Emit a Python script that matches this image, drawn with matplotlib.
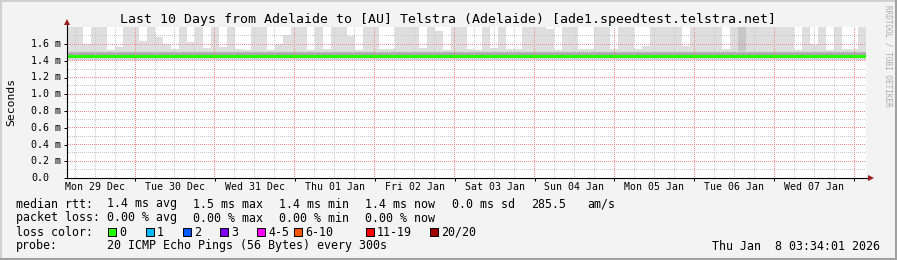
import matplotlib
matplotlib.use("Agg")
import matplotlib.pyplot as plt
import matplotlib.dates as mdates
from matplotlib.colors import to_rgba
from matplotlib.lines import Line2D
from matplotlib.patches import Rectangle
import numpy as np
from datetime import datetime, timedelta

plt.rcParams['font.family'] = ['DejaVu Sans Mono']

W, H = 897, 260
end_time = datetime(2026, 1, 8, 3, 34, 1)
start_time = end_time - timedelta(days=10)

title = "Last 10 Days from Adelaide to [AU] Telstra (Adelaide) [ade1.speedtest.telstra.net]"
day_labels = ["Mon 29 Dec", "Tue 30 Dec", "Wed 31 Dec", "Thu 01 Jan", "Fri 02 Jan",
              "Sat 03 Jan", "Sun 04 Jan", "Mon 05 Jan", "Tue 06 Jan", "Wed 07 Jan"]
y_ticks = [0.0, 0.2, 0.4, 0.6, 0.8, 1.0, 1.2, 1.4, 1.6]
y_tick_labels = ["0.0", "0.2 m", "0.4 m", "0.6 m", "0.8 m", "1.0 m", "1.2 m", "1.4 m", "1.6 m"]
y_minor = [0.1, 0.3, 0.5, 0.7, 0.9, 1.1, 1.3, 1.5, 1.7]

# upper edge of the smoke (ms) per 2.4 h bin
smoke_top = [
    1.85, 1.85, 1.60, 1.85, 1.85, 1.53, 1.56, 1.85, 1.85, 1.64,
    1.85, 1.68, 1.60, 1.54, 1.85, 1.62, 1.85, 1.55, 1.85, 1.56,
    1.85, 1.54, 1.53, 1.85, 1.85, 1.53, 1.60, 1.71, 1.85, 1.85,
    1.53, 1.85, 1.54, 1.85, 1.85, 1.70, 1.53, 1.85, 1.85, 1.54,
    1.54, 1.85, 1.85, 1.85, 1.55, 1.85, 1.75, 1.53, 1.85, 1.85,
    1.54, 1.53, 1.85, 1.55, 1.85, 1.54, 1.54, 1.85, 1.85, 1.85,
    1.78, 1.53, 1.85, 1.85, 1.54, 1.54, 1.85, 1.85, 1.54, 1.85,
    1.85, 1.54, 1.58, 1.85, 1.85, 1.85, 1.85, 1.58, 1.85, 1.85,
    1.85, 1.85, 1.54, 1.85, 1.85, 1.85, 1.85, 1.85, 1.85, 1.85,
    1.85, 1.53, 1.85, 1.60, 1.85, 1.53, 1.85, 1.54, 1.54, 1.85,
]
dark_bins = [4, 81, 84, 85]
smoke_low = 1.41
smoke_base = 1.52
inner_low = 1.43
inner_high = 1.50

# median rtt (ms) per 9.6 h
median_rtt = [1.460, 1.460, 1.455, 1.460, 1.460, 1.460, 1.455, 1.460, 1.460, 1.460,
              1.460, 1.455, 1.460, 1.460, 1.460, 1.455, 1.460, 1.460, 1.460, 1.460,
              1.455, 1.460, 1.460, 1.455, 1.460]

legend_rtt = [("median rtt:", 16), ("1.4 ms avg", 107), ("1.5 ms max", 193), ("1.4 ms min", 279),
              ("1.4 ms now", 365), ("0.0 ms sd", 452), ("285.5", 531), ("am/s", 587)]
legend_loss = [("packet loss:", 16), ("0.00 % avg", 107), ("0.00 % max", 193),
               ("0.00 % min", 279), ("0.00 % now", 365)]
loss_names = ["0", "1", "2", "3", "4-5", "6-10", "11-19", "20/20"]
loss_colors = ["#26ff00", "#00b8ff", "#0059ff", "#7e00ff", "#ff00ff", "#ff5500", "#ff0000", "#a00000"]
loss_box_x = [108, 146, 183, 220, 257, 294, 366, 430]
probe_text = "20 ICMP Echo Pings (56 Bytes) every 300s"
date_text = "Thu Jan  8 03:34:01 2026"


def fx(x):
    return x / W


def fy(y):
    return 1 - y / H


fig = plt.figure(figsize=(W / 100, H / 100), dpi=100, facecolor="#f3f3f3")
ax = fig.add_axes([fx(67), fy(178), (866 - 67) / W, (178 - 27) / H])
ax.set_facecolor("white")

t0 = mdates.date2num(start_time)
t1 = mdates.date2num(end_time)
y_top = 1.803
n = len(smoke_top)
edges = [t0 + (t1 - t0) * i / n for i in range(n + 1)]
tops = smoke_top + [smoke_top[-1]]

ax.fill_between(edges, smoke_low, smoke_base, step="post", color="#d6d6d6", lw=0, zorder=1)
ax.fill_between(edges, smoke_base, tops, step="post", color="#dedede", lw=0, zorder=1)
dark = [i in dark_bins for i in range(n)] + [False]
ax.fill_between(edges, smoke_base, tops, where=dark, step="post", color="#c6c6c6", lw=0, zorder=1.1)
ax.fill_between(edges, inner_low, inner_high, step="post", color="#a8a8a8", lw=0, zorder=1.2)

m = len(median_rtt)
medges = [t0 + (t1 - t0) * i / m for i in range(m + 1)]
ax.step(medges, median_rtt + [median_rtt[-1]], where="post", color="#22ff00", lw=2.2, zorder=3)

ax.set_xlim(t0, t1)
ax.set_ylim(0, y_top)

midnights = [mdates.date2num(datetime(2025, 12, 30) + timedelta(days=i)) for i in range(10)]
six_hours = [mdates.date2num(datetime(2025, 12, 29, 6) + timedelta(hours=6 * i)) for i in range(40)]
six_hours = [h for h in six_hours if t0 < h < t1 and (h - t0) * 4 % 4 != 0]
six_hours = [h for h in six_hours if min(abs(h - d) for d in midnights) > 0.01]
ax.set_xticks(midnights)
ax.set_yticks(y_ticks)
ax.tick_params(which="both", labelbottom=False, labelleft=False)
ax.tick_params(which="major", length=2.5, width=0.72, color="black")

for s in ["top", "right"]:
    ax.spines[s].set_visible(False)
for s in ["left", "bottom"]:
    ax.spines[s].set_linewidth(0.8)
    ax.spines[s].set_color("black")
    ax.spines[s].set_zorder(4)

# dotted grid built as a pixel overlay (one pixel on, one off)
pw, ph = 799, 151
grid = np.zeros((ph, pw, 4))
bx0 = 67
by1 = H - 27


def grid_row(v):
    return int(np.floor(by1 - ax.transData.transform((t0, v))[1]))


def grid_col(v):
    return int(np.floor(ax.transData.transform((v, 0))[0] - bx0))


for vals, horiz, col in [(y_minor, True, "#c8c8c8"), (six_hours, False, "#c8c8c8"),
                         (y_ticks[1:], True, "#f08a8a"), (midnights, False, "#f08a8a")]:
    rgba = to_rgba(col)
    for v in vals:
        if horiz:
            r = min(max(grid_row(v), 0), ph - 1)
            grid[r, 1::2] = rgba
        else:
            c = min(max(grid_col(v), 0), pw - 1)
            grid[1::2, c] = rgba

ax.imshow(grid, extent=(t0, t1, 0, y_top), aspect="auto", interpolation="nearest",
          origin="upper", zorder=2.5)
ax.set_xlim(t0, t1)
ax.set_ylim(0, y_top)

# axis arrows
fig.add_artist(Line2D([fx(67), fx(67)], [fy(27), fy(24)], color="black", lw=0.8))
fig.add_artist(Line2D([fx(866), fx(869)], [fy(178), fy(178)], color="black", lw=0.8))
fig.add_artist(Line2D([fx(67)], [fy(22)], marker="^", ms=5, color="#9a1a1a", mew=0))
fig.add_artist(Line2D([fx(871)], [fy(178)], marker=">", ms=5, color="#9a1a1a", mew=0))

# y tick labels
for v, lab in zip(y_ticks, y_tick_labels):
    yp = 178 - v / 0.2 * 16.75
    xr = 61 if lab.endswith("m") else 49
    fig.text(fx(xr), fy(yp), lab, ha="right", va="center", fontsize=7.2)

# day labels at noon
for i, lab in enumerate(day_labels):
    noon = datetime(2025, 12, 29, 12) + timedelta(days=i)
    xd = 67 + (mdates.date2num(noon) - t0) / (t1 - t0) * 799
    fig.text(fx(xd), fy(187), lab, ha="center", va="center", fontsize=7.1)

fig.text(fx(448), fy(19), title, ha="center", va="center", fontsize=9.5)
fig.text(fx(11), fy(102), "Seconds", rotation=90, ha="center", va="center", fontsize=8.2)
fig.text(fx(888), fy(5), "RRDTOOL / TOBI OETIKER", rotation=270, ha="center", va="top",
         fontsize=5.5, color="#aaaaaa")

for txt, xp in legend_rtt:
    fig.text(fx(xp), fy(204), txt, ha="left", va="center", fontsize=8.4)
for txt, xp in legend_loss:
    fig.text(fx(xp), fy(218), txt, ha="left", va="center", fontsize=8.4)
fig.text(fx(16), fy(232), "loss color:", ha="left", va="center", fontsize=8.4)
for name, col, xp in zip(loss_names, loss_colors, loss_box_x):
    fig.add_artist(Rectangle((fx(xp), fy(236)), 8 / W, 8 / H, facecolor=col,
                             edgecolor="black", lw=0.72))
    fig.text(fx(xp + 11), fy(232), name, ha="left", va="center", fontsize=8.4)
fig.text(fx(16), fy(246), "probe:", ha="left", va="center", fontsize=8.4)
fig.text(fx(107), fy(246), probe_text, ha="left", va="center", fontsize=8.4)
fig.text(fx(880), fy(246), date_text, ha="right", va="center", fontsize=8.4)

# 3d frame around the image
fig.add_artist(Line2D([0, 1], [fy(0.5), fy(0.5)], color="#d0d0d0", lw=1.4))
fig.add_artist(Line2D([fx(0.5), fx(0.5)], [0, 1], color="#d0d0d0", lw=1.4))
fig.add_artist(Line2D([0, 1], [fy(258.5), fy(258.5)], color="#a0a0a0", lw=2.2))
fig.add_artist(Line2D([fx(895.5), fx(895.5)], [0, 1], color="#a0a0a0", lw=2.2))

fig.savefig("out.png", dpi=100, facecolor=fig.get_facecolor())
